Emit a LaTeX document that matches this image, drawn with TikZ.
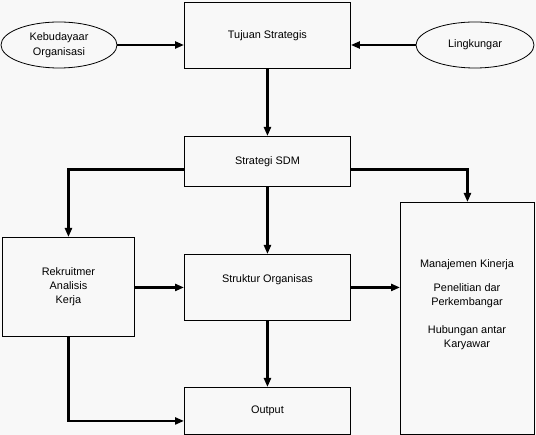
\documentclass[tikz,border=0pt]{standalone}
\usepackage{fontspec}
\setmainfont{Liberation Sans}
\usetikzlibrary{arrows.meta,shapes.geometric}
\definecolor{bg}{HTML}{F8F8F8}
\newcommand{\bw}{166pt}
\newcommand{\txt}{\fontsize{10.9}{14}\selectfont}

\begin{document}
\begin{tikzpicture}[x=1pt,y=-1pt,
    box/.style={draw, rectangle, anchor=north west, minimum width=\bw, inner sep=0pt, line width=0.9pt, align=center, font=\txt},
    oval/.style={draw, ellipse, minimum width=116pt, minimum height=46pt, inner sep=0pt, line width=0.8pt, align=center, font=\txt},
    link/.style={-{Triangle[length=9pt,width=7pt]}, line width=2.2pt}]
    \useasboundingbox (0,0) rectangle (536,435);
    \fill[bg] (0,0) rectangle (536,435);

    % Top row
    \node[oval] (kebudayaan) at (59,45) {Kebudayaar\\[1pt]Organisasi};
    \node[box, minimum height=66pt] (tujuan) at (184,2) {Tujuan Strategis};
    \node[oval, minimum width=118pt] (lingkungan) at (475,45) {Lingkungar};

    % Middle rows
    \node[box, minimum height=50pt] (strategi) at (184,136) {Strategi SDM};
    \node[box, minimum width=132pt, minimum height=99pt] (rekrut) at (2,237) {Rekruitmer\\Analisis\\Kerja};
    \node[box, minimum height=66pt] (struktur) at (184,254) {Struktur Organisas\\[3pt]};
    \node[box, minimum width=134pt, minimum height=232pt] (manajemen) at (400,202) {};
    \node[align=center, font=\txt, inner sep=0pt] (manajemen-text) at (467,305)
        {Manajemen Kinerja\\[10pt]Penelitian dar\\Perkembangar\\[14pt]Hubungan antar\\Karyawar};

    % Bottom row
    \node[box, minimum height=47pt] (output) at (184,387) {Output};

    % Arrows
    \draw[link] (kebudayaan) -- (kebudayaan -| tujuan.west);
    \draw[link] (lingkungan) -- (lingkungan -| tujuan.east);
    \draw[link] (tujuan) -- (strategi);
    \draw[link] ([yshift=-8pt]strategi.west) -| (rekrut);
    \draw[link] ([yshift=-8pt]strategi.east) -| (manajemen);
    \draw[link] (strategi) -- (struktur);
    \draw[link] (rekrut.east |- struktur) -- (struktur.west);
    \draw[link] (struktur.east) -- (struktur.east -| manajemen.west);
    \draw[link] (struktur) -- (output);
    \draw[link] (rekrut.south) |- ([yshift=-10pt]output.west);

\end{tikzpicture}
\end{document}
